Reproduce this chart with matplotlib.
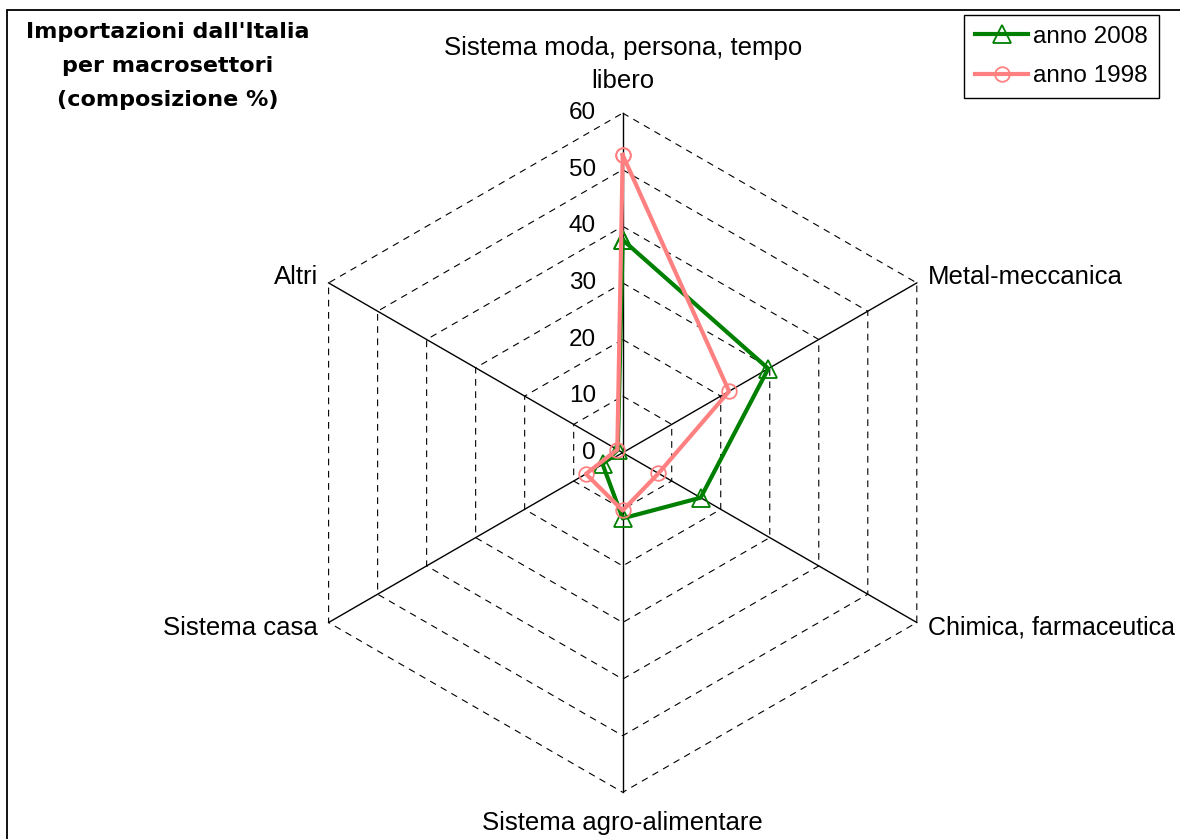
import numpy as np
import matplotlib
matplotlib.use('Agg')
import matplotlib.pyplot as plt
from matplotlib.patches import Rectangle

plt.rcParams['font.family'] = ['Liberation Sans', 'DejaVu Sans']

# import shares by macro-sector (%), clockwise from the top
sectors = ['Sistema moda, persona, tempo\nlibero', 'Metal-meccanica',
           'Chimica, farmaceutica', 'Sistema agro-alimentare',
           'Sistema casa', 'Altri']
anno_2008 = [37.6, 29.7, 15.9, 11.6, 4.1, 1.0]
anno_1998 = [52.6, 21.7, 7.3, 10.2, 7.5, 1.1]
rings = [10, 20, 30, 40, 50, 60]
ring_labels = ['0', '10', '20', '30', '40', '50', '60']

W, H = 1180, 839
CX, CY = 622.7, 452.7      # centre of the web, pixels
PX = 5.66                  # pixels per percentage point
FS_CAT = 18.5
FS = 17.5

fig = plt.figure(figsize=(W / 100, H / 100), dpi=100)
ax = fig.add_axes([0, 0, 1, 1])
ax.set_xlim(-CX / PX, (W - CX) / PX)
ax.set_ylim(-(H - CY) / PX, CY / PX)
ax.axis('off')

n = len(sectors)
theta = np.arange(n) * 2 * np.pi / n
ux, uy = np.sin(theta), np.cos(theta)


def closed(vals):
    v = np.asarray(vals, dtype=float)
    x, y = v * ux, v * uy
    return np.append(x, x[0]), np.append(y, y[0])


# hexagonal grid
for r in rings:
    gx, gy = closed([r] * n)
    ax.plot(gx, gy, color='black', lw=0.8, ls=(0, (6, 5)), zorder=1)
for i in range(n):
    ax.plot([0, rings[-1] * ux[i]], [0, rings[-1] * uy[i]], color='black', lw=1.0, zorder=1)

# radial scale on the top spoke
for i, lab in enumerate(ring_labels):
    ax.text(-4.7, i * 10, lab, ha='right', va='center', fontsize=FS)

# series
x08, y08 = closed(anno_2008)
x98, y98 = closed(anno_1998)
ax.plot(x08, y08, color='#008000', lw=3, marker='^', ms=12.5, mfc='none',
        mec='#008000', mew=1.3, label='anno 2008', zorder=3)
ax.plot(x98, y98, color='#FF8080', lw=3, marker='o', ms=10.5, mfc='none',
        mec='#FF8080', mew=1.3, label='anno 1998', zorder=4)

# sector labels
R = rings[-1]
ax.text(0, R + 3.6, sectors[0], ha='center', va='bottom', fontsize=FS_CAT, linespacing=1.45)
ax.text(R * ux[1] + 2.0, R * uy[1] + 1.0, sectors[1], ha='left', va='center', fontsize=FS_CAT)
ax.text(R * ux[2] + 2.0, R * uy[2] - 0.9, sectors[2], ha='left', va='center', fontsize=18)
ax.text(0, -R - 5.4, sectors[3], ha='center', va='center', fontsize=FS_CAT)
ax.text(R * ux[4] - 1.9, R * uy[4] - 0.9, sectors[4], ha='right', va='center', fontsize=FS_CAT)
ax.text(R * ux[5] - 1.9, R * uy[5] + 1.0, sectors[5], ha='right', va='center', fontsize=FS_CAT)

# title block
fig.text(168 / W, 1 - 66 / H, "Importazioni dall'Italia\nper macrosettori\n(composizione %)",
         ha='center', va='center', fontsize=16, fontweight='bold',
         family='DejaVu Sans', linespacing=1.88)

leg = ax.legend(loc='upper right', bbox_to_anchor=(1159 / W, 1 - 15 / H),
                bbox_transform=fig.transFigure, borderaxespad=0, fontsize=FS,
                handlelength=2.2, handletextpad=0.2, labelspacing=0.72,
                borderpad=0.45, fancybox=False, framealpha=1, edgecolor='black')
leg.get_frame().set_linewidth(1.0)

# outer frame, open on the right and bottom edges
fig.add_artist(Rectangle((7 / W, -0.5), 2, 1.5 - 10 / H, transform=fig.transFigure,
                         fill=False, edgecolor='black', lw=1.3))

fig.savefig('out.png', dpi=100)
